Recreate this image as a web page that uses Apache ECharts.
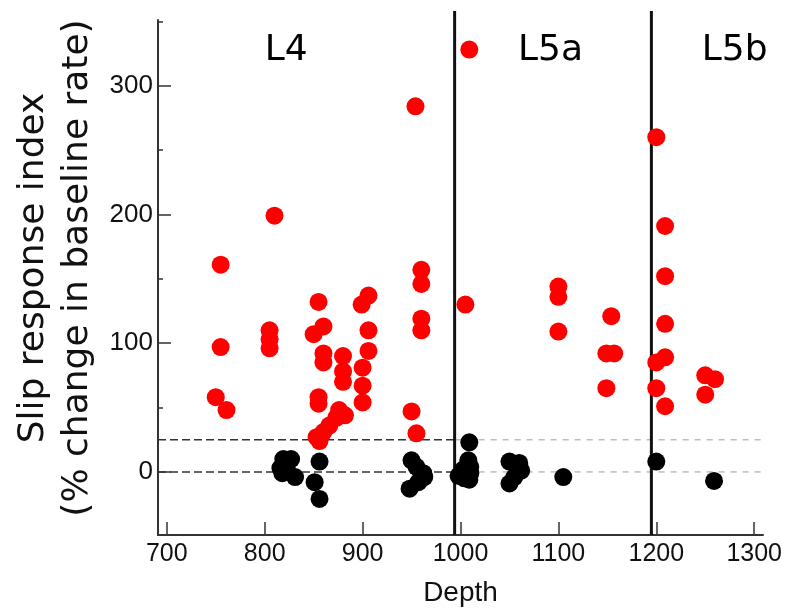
<!DOCTYPE html>
<html>
<head>
<meta charset="utf-8">
<script src="https://cdn.jsdelivr.net/npm/echarts@6/dist/echarts.min.js"></script>
<style>
  html, body { margin: 0; background: #fff; }
  #main { width: 793px; height: 613px; }
</style>
</head>
<body>
<div id="main"></div>
<script>
// responsive cells (red)
var redDepth = [755, 755, 750, 761, 810, 805, 805, 805, 855, 850, 860, 860, 860, 855, 855,
  880, 880, 880, 906, 899, 906, 906, 900, 900, 900, 853, 856, 860, 866, 873, 876, 882,
  960, 960, 960, 960, 950, 955, 954,
  1005, 1009, 1100, 1100, 1100, 1154, 1149, 1157, 1149,
  1200, 1209, 1209, 1209, 1209, 1200, 1200, 1209, 1250, 1260, 1250]
var redIndex = [161, 97, 58, 48, 199, 110, 103, 96, 132, 107, 113, 92, 85, 58, 53,
  90, 78, 70, 137, 130, 110, 94, 81, 67, 54, 27, 24, 31, 36, 42, 48, 44,
  157, 146, 119, 110, 47, 30, 284,
  130, 328, 144, 136, 109, 121, 92, 92, 65,
  260, 191, 152, 115, 89, 85, 65, 51, 75, 72, 60]

// non-responsive cells (black)
var blackDepth = [819, 827, 816, 823, 831, 818, 856, 851, 856,
  950, 955, 962, 963, 957, 948,
  1009, 1008, 1003, 998, 1009, 1010, 1004, 1010,
  1050, 1060, 1062, 1050, 1055, 1105, 1200, 1259]
var blackIndex = [10, 10, 3, 1, -4, -1, 8, -8, -21,
  9, 4, -1, -4, -8, -13,
  23, 9, 2, -3, -6, -1, -5, 4,
  8, 7, 1, -9, -4, -4, 8, -7]

var depthTicks = [700, 800, 900, 1000, 1100, 1200, 1300]
var indexTicks = [0, 100, 200, 300]
var indexMinorTicks = [50, 150, 250, 350]

var layerNames = ['L4', 'L5a', 'L5b']
var layerNameDepth = [822, 1092, 1280]
var layerNameIndex = 327
var layerBounds = [994, 1195]
var baselines = [0, 25]

var depthMin = 691, depthMax = 1309
var indexMin = -49, indexMax = 351

function zip (xs, ys) {
  var out = []
  for (var i = 0; i < xs.length; i++) out.push([xs[i], ys[i]])
  return out
}

var font = 'Liberation Sans, Arial, sans-serif'
var plain = function (v) { return String(v) }

var series = [
  {
    type: 'scatter', name: 'responsive', symbolSize: 18,
    itemStyle: { color: '#ff0000', opacity: 1 },
    data: zip(redDepth, redIndex), z: 3
  },
  {
    type: 'scatter', name: 'unresponsive', symbolSize: 18,
    itemStyle: { color: '#000', opacity: 1 },
    data: zip(blackDepth, blackIndex), z: 4
  },
  {
    type: 'scatter', symbolSize: 0, silent: true,
    itemStyle: { opacity: 1 },
    data: layerNames.map(function (n, i) { return [layerNameDepth[i], layerNameIndex, n] }),
    label: {
      show: true, position: 'inside', formatter: function (p) { return p.value[2] },
      fontSize: 36, fontFamily: 'DejaVu Sans', color: '#000'
    }
  }
]

// dashed baselines: darker across L4, light grey after it
baselines.forEach(function (b) {
  series.push({
    type: 'line', silent: true, symbol: 'none', z: 1,
    data: [[depthMin, b], [layerBounds[0], b]],
    lineStyle: { color: '#333', width: 1.5, type: [8, 4] }
  })
  series.push({
    type: 'line', silent: true, symbol: 'none', z: 1,
    data: [[layerBounds[0], b], [1307, b]],
    lineStyle: { color: '#bdbdbd', width: 1.5, type: [6, 6] }
  })
})

// layer borders
layerBounds.forEach(function (d) {
  series.push({
    type: 'line', silent: true, symbol: 'none', clip: false, z: 2,
    data: [[d, indexMin], [d, 358]],
    lineStyle: { color: '#111', width: 3 }
  })
})

var chart = echarts.init(document.getElementById('main'))
chart.setOption({
  animation: false,
  backgroundColor: '#fff',
  grid: { left: 158, right: 30, top: 20, bottom: 78 },
  xAxis: {
    type: 'value', min: depthMin, max: depthMax,
    name: 'Depth', nameLocation: 'middle', nameGap: 44,
    nameTextStyle: { fontSize: 28, fontFamily: font, color: '#111' },
    axisLine: { onZero: false, lineStyle: { color: '#333', width: 2 } },
    axisTick: { customValues: depthTicks, inside: true, length: 13, lineStyle: { color: '#333', width: 1.5 } },
    axisLabel: { customValues: depthTicks, formatter: plain, margin: 7, fontSize: 25, fontFamily: 'Liberation Sans Narrow, Liberation Sans, Arial', color: '#111' },
    splitLine: { show: false }
  },
  yAxis: [
    {
      type: 'value', min: indexMin, max: indexMax,
      axisLine: { show: true, onZero: false, lineStyle: { color: '#333', width: 2 } },
      axisTick: { show: true, customValues: indexTicks, inside: true, length: 13, lineStyle: { color: '#333', width: 1.5 } },
      axisLabel: { customValues: indexTicks, formatter: plain, margin: 5, fontSize: 26, fontFamily: font, color: '#111' },
      splitLine: { show: false }
    },
    {
      type: 'value', min: indexMin, max: indexMax, position: 'left', offset: 0,
      axisLine: { show: false, onZero: false },
      axisTick: { show: true, customValues: indexMinorTicks, inside: true, length: 5, lineStyle: { color: '#333', width: 1.5 } },
      axisLabel: { show: false },
      splitLine: { show: false }
    }
  ],
  graphic: [{
    type: 'text', x: 56, y: 268, rotation: Math.PI / 2,
    style: {
      text: 'Slip response index\n(% change in baseline rate)',
      font: '36px "DejaVu Sans"', fill: '#111',
      align: 'center', verticalAlign: 'middle', lineHeight: 44
    }
  }],
  series: series
})
</script>
</body>
</html>
